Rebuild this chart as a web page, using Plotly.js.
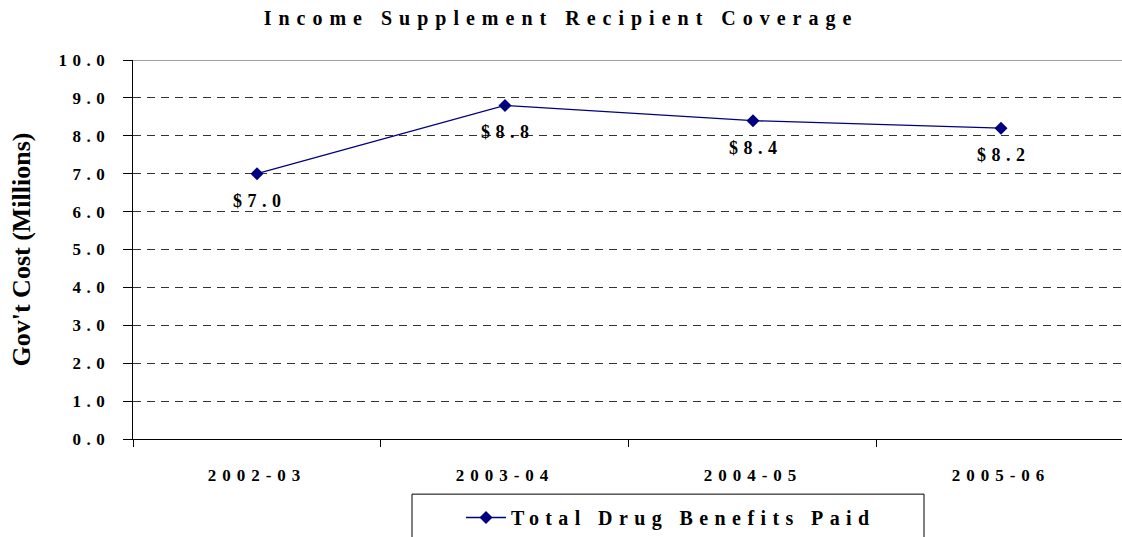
<!DOCTYPE html>
<html>
<head>
<meta charset="utf-8">
<script src="https://cdn.plot.ly/plotly-3.0.1.min.js"></script>
<style>
  html, body { margin: 0; padding: 0; background: #fff; }
  #chart { width: 1122px; height: 537px; }
  .gtitle { letter-spacing: 7px; }
  .xtick text { letter-spacing: 6px; }
  .ytick text { letter-spacing: 5.5px; }
  .annotation-text { letter-spacing: 5.5px; }
  .legendtext { letter-spacing: 6.4px; }
</style>
</head>
<body>
<div id="chart"></div>
<script>
const categories = ["2002-03", "2003-04", "2004-05", "2005-06"];
const values = [7.0, 8.8, 8.4, 8.2];
const valueLabels = ["$7.0", "$8.8", "$8.4", "$8.2"];
const yTickVals = [0, 1, 2, 3, 4, 5, 6, 7, 8, 9, 10];
const yTickText = ["0.0", "1.0", "2.0", "3.0", "4.0", "5.0", "6.0", "7.0", "8.0", "9.0", "10.0"];
const seriesName = "Total Drug Benefits Paid";

const navy = "#000080";
const serif = "Liberation Serif, Times New Roman, serif";

const trace = {
  x: categories,
  y: values,
  type: "scatter",
  mode: "lines+markers",
  name: seriesName,
  line: { color: navy, width: 1.3 },
  marker: { symbol: "diamond", size: 10, color: navy },
  hoverinfo: "skip"
};

const annotations = categories.map((c, i) => ({
  x: c, y: values[i], xref: "x", yref: "y",
  text: valueLabels[i], showarrow: false,
  yshift: -27, xshift: 3,
  font: { family: serif, size: 18, color: "#000", weight: "bold" }
}));

const layout = {
  width: 1122, height: 537,
  margin: { l: 133, r: 0, t: 60, b: 92 },
  paper_bgcolor: "#fff", plot_bgcolor: "#fff",
  showlegend: true,
  title: {
    text: "Income Supplement Recipient Coverage",
    font: { family: serif, size: 20, color: "#000", weight: "bold" },
    x: 0.5, xref: "container", xanchor: "center",
    y: 0.967, yref: "container", yanchor: "middle"
  },
  xaxis: {
    type: "category",
    range: [-0.5, 3.488],
    showgrid: false,
    showline: true, linecolor: "#000", linewidth: 1.3,
    ticks: "outside", tickson: "boundaries", ticklen: 7, tickcolor: "#000", tickwidth: 1,
    tickfont: { family: serif, size: 17, color: "#000", weight: "bold" },
    ticklabelstandoff: 20,
    zeroline: false, fixedrange: true
  },
  yaxis: {
    range: [0, 10],
    tickvals: yTickVals, ticktext: yTickText,
    showgrid: true, gridcolor: "#333", gridwidth: 1, griddash: "8px,6px",
    showline: true, linecolor: "#000", linewidth: 1.3,
    ticks: "outside", ticklen: 9, tickcolor: "#000", tickwidth: 1,
    tickfont: { family: serif, size: 17, color: "#000", weight: "bold" },
    ticklabelstandoff: 9,
    zeroline: false, fixedrange: true,
    title: {
      text: "Gov't Cost (Millions)",
      font: { family: serif, size: 26, color: "#000", weight: "bold" },
      standoff: 20
    }
  },
  legend: {
    orientation: "h",
    x: (461 - 133) / 989, xanchor: "left",
    y: (445 - 505) / 385, yanchor: "top",
    bgcolor: "rgba(0,0,0,0)",
    borderwidth: 0,
    itemwidth: 40,
    font: { family: serif, size: 20, color: "#000", weight: "bold" }
  },
  shapes: [
    { type: "line", xref: "paper", yref: "y", x0: 0, x1: 1, y0: 10, y1: 10,
      line: { color: "#a0a0a0", width: 2 }, layer: "below" },
    { type: "rect", xref: "paper", yref: "paper",
      x0: (412 - 133) / 989, x1: (924 - 133) / 989,
      y0: (445 - 501) / 385, y1: (445 - 560) / 385,
      line: { color: "#000", width: 1 }, fillcolor: "rgba(0,0,0,0)" }
  ],
  annotations: annotations
};

Plotly.newPlot("chart", [trace], layout, { displayModeBar: false, staticPlot: true });
</script>
</body>
</html>
